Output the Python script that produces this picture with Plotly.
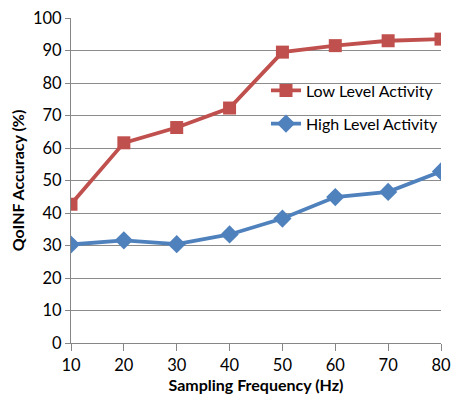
import plotly.graph_objects as go

freq = [10, 20, 30, 40, 50, 60, 70, 80]
low_level = [42.7, 61.6, 66.3, 72.3, 89.5, 91.5, 93.0, 93.5]
high_level = [30.3, 31.6, 30.4, 33.4, 38.3, 44.9, 46.5, 52.8]
y_ticks = [0, 10, 20, 30, 40, 50, 60, 70, 80, 90, 100]

FONT = "Lato"
fig = go.Figure()
fig.add_trace(go.Scatter(x=freq, y=low_level, name="Low Level Activity", mode="lines+markers",
                         line=dict(color="#C0504D", width=3.8),
                         marker=dict(symbol="square", size=13, color="#C0504D"),
                         legend="legend", showlegend=True))
fig.add_trace(go.Scatter(x=freq, y=high_level, name="High Level Activity", mode="lines+markers",
                         line=dict(color="#4F81BD", width=3.8),
                         marker=dict(symbol="diamond", size=14, color="#4F81BD"),
                         legend="legend2", showlegend=True))

leg_common = dict(xanchor="left", yanchor="middle", bgcolor="rgba(0,0,0,0)",
                  font=dict(family=FONT, size=16, color="#000000"))
fig.update_layout(
    width=459, height=398,
    margin=dict(l=71, r=8, t=14, b=50),
    paper_bgcolor="white", plot_bgcolor="white",
    font=dict(family=FONT, size=16.5, color="#000000"),
    legend=dict(x=0.527, y=0.777, **leg_common),
    legend2=dict(x=0.527, y=0.675, **leg_common),
    xaxis=dict(range=[10, 80], tickvals=freq, ticks="outside", ticklen=7, tickcolor="#868686",
               showline=True, linecolor="#868686", linewidth=1, showgrid=False, zeroline=False,
               ticklabeloverflow="allow",
               title=dict(text="<b>Sampling Frequency (Hz)</b>", font=dict(family=FONT, size=16), standoff=4)),
    yaxis=dict(range=[0, 100], tickvals=y_ticks, ticks="outside", ticklen=5, tickcolor="#868686",
               showline=True, linecolor="#868686", linewidth=1, showgrid=True, gridcolor="#8c8c8c",
               gridwidth=1, zeroline=False,
               title=dict(text="<b>QoINF Accuracy (%)</b>", font=dict(family=FONT, size=16), standoff=4)),
)
fig.write_html("out.html")
